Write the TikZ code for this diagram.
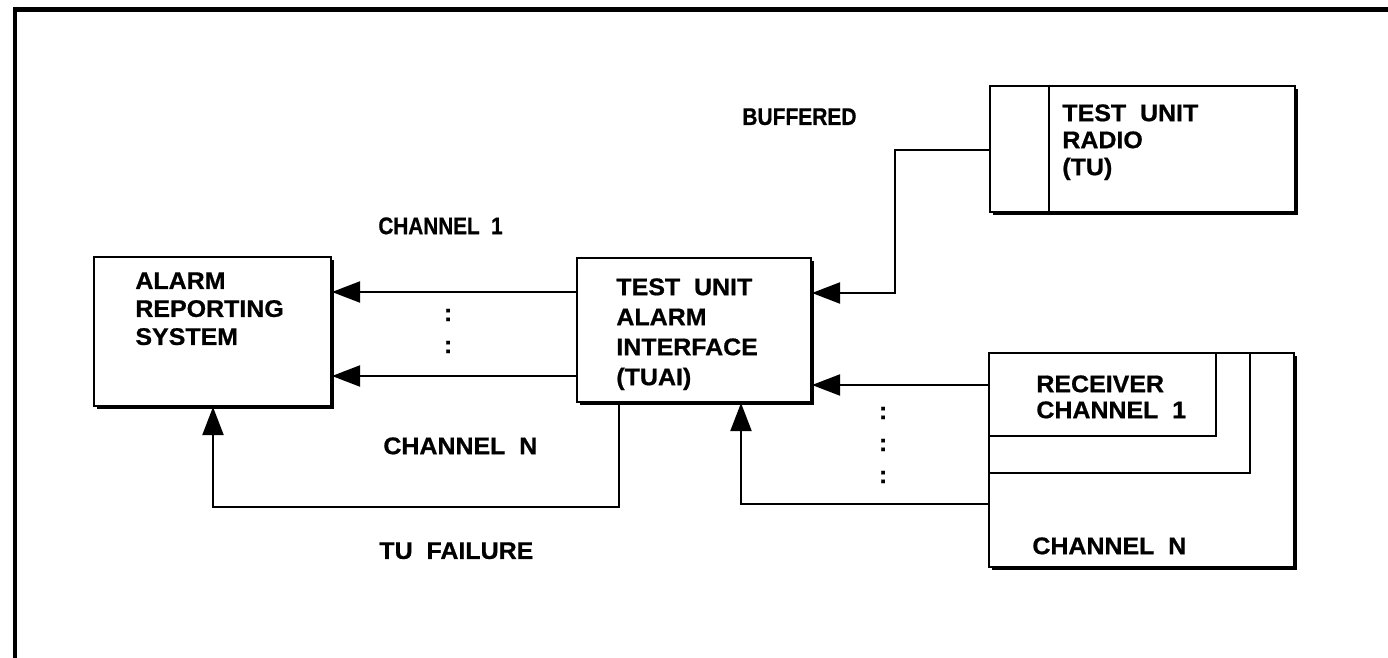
\documentclass[tikz,border=0pt]{standalone}
\usepackage{fontspec}
\setmainfont{Liberation Sans}[BoldFeatures={FakeStretch=1.04, FakeBold=0.8}]
\usetikzlibrary{arrows.meta, fit, shadows}

\newcommand{\lblfont}[1]{\bfseries\fontsize{12}{#1}\selectfont}

\begin{document}
\begin{tikzpicture}[x=0.5pt, y=-0.5pt,
  box/.style={draw, line width=1pt, fill=white, inner sep=0pt,
    drop shadow={opacity=1, fill=black, shadow xshift=1.6pt, shadow yshift=-1.6pt}},
  inbox/.style={draw, line width=1pt, inner sep=0pt},
  wire/.style={line width=1pt},
  feed/.style={wire, -{Triangle[length=14pt, width=10.5pt]}},
  label/.style={font=\lblfont{14pt}, align=left, inner sep=0pt, anchor=north west},
  dots/.style={font=\lblfont{14pt}, inner sep=0pt}
]
\useasboundingbox (0,0) rectangle (1388,658);
% frame
\draw[line width=2.8pt] (13.3,9.5) -- (1388,9.5);
\draw[line width=2pt] (15.3,6.7) -- (15.3,658);

% boxes
\node[box, fit={(94,257) (331,406)}] (ars) {};
\node[box, fit={(577,258) (811,402)}] (tuai) {};
\node[box, fit={(990,86) (1295,212)}] (radio) {};
\node[box, fit={(989,353) (1294,567)}] (rcv) {};
\node[inbox, fit={(989,353) (1216,436)}] (rxa) {};
\node[inbox, fit={(989,353) (1250,473)}] (rxb) {};
\coordinate (div) at (1049,0);
\draw[wire] (div |- radio.north) -- (div |- radio.south);

% box texts
\node[label] (ars-txt) at (135,272) {ALARM\\REPORTING\\SYSTEM};
\node[label, font=\lblfont{15pt}] (tuai-txt) at (616,278) {TEST\ \ UNIT\\ALARM\\INTERFACE\\(TUAI)};
\node[label, font=\lblfont{13.5pt}] (radio-txt) at (1062,104) {TEST\ \ UNIT\\RADIO\\(TU)};
\node[label, font=\lblfont{13pt}] (rxa-txt) at (1036,375) {RECEIVER\\CHANNEL\ \ 1};
\node[label] (rxn-txt) at (1032,537) {CHANNEL\ \ N};

% line labels
\node[label] (ch1-lbl) at (378,217) {\scalebox{0.83}[1]{CHANNEL\ \ 1}};
\node[label] (chn-lbl) at (383,437) {CHANNEL\ \ N};
\node[label] (fail-lbl) at (379,542) {TU\ \ FAILURE};
\node[label] (buf-lbl) at (742,108) {\scalebox{0.84}[1]{BUFFERED}};
\node[dots] (dl1) at (448,315) {:};
\node[dots] (dl2) at (448,347) {:};
\node[dots] (dr1) at (883,413) {:};
\node[dots] (dr2) at (883,445) {:};
\node[dots] (dr3) at (883,477) {:};

% connectors
\coordinate (ch1) at (0,292);
\coordinate (chn) at (0,376);
\coordinate (rb) at (0,150);
\coordinate (buf) at (0,293);
\coordinate (rx1) at (0,385);
\coordinate (rxn) at (0,504);
\coordinate (fail) at (0,507);
\coordinate (bx) at (895,0);
\coordinate (nx) at (741,0);
\coordinate (fx) at (619,0);
\coordinate (ax) at (213,0);
\draw[feed] (tuai.west |- ch1) -- (ars.east |- ch1);
\draw[feed] (tuai.west |- chn) -- (ars.east |- chn);
\draw[feed] (radio.west |- rb) -| (bx |- buf) -- (tuai.east |- buf);
\draw[feed] (rcv.west |- rx1) -- (tuai.east |- rx1);
\draw[feed] (rcv.west |- rxn) -| (tuai.south -| nx);
\draw[feed] (tuai.south -| fx) |- (ax |- fail) -- (ars.south -| ax);
\end{tikzpicture}
\end{document}
